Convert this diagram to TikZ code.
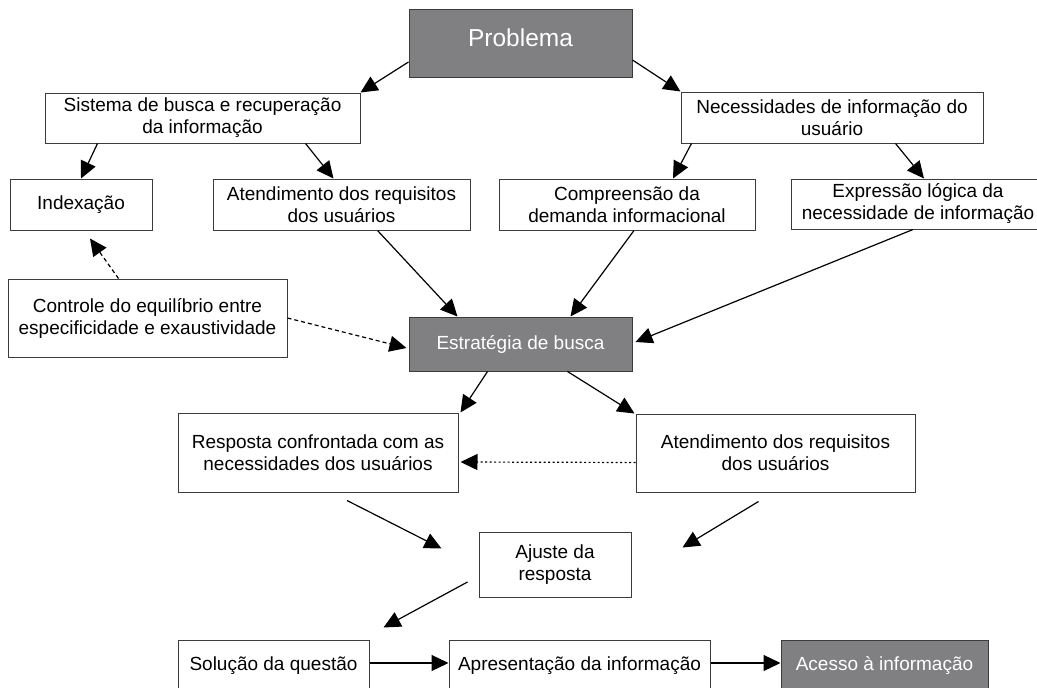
\documentclass[tikz,border=0pt]{standalone}
\usepackage{fontspec}
\setmainfont{Liberation Sans}
\usetikzlibrary{arrows.meta}
\definecolor{boxgray}{RGB}{128,128,131}
\definecolor{edgegray}{RGB}{60,60,60}
\begin{document}
\begin{tikzpicture}[x=1pt,y=-1pt,
  box/.style={draw=edgegray, line width=1pt, fill=white, inner sep=0pt, align=center,
    font=\fontsize{19}{22}\selectfont, text=black},
  gbox/.style={box, fill=boxgray, text=white},
  arr/.style={draw=black, line width=1.2pt, -{Triangle[length=17pt,width=16pt]}},
  darr/.style={arr, dash pattern=on 4pt off 3pt},
  dotarr/.style={arr, dash pattern=on 2pt off 2.5pt}
]
\useasboundingbox (0,0) rectangle (1037,688);
\fill[white] (0,0) rectangle (1037,688);
\clip (0,0) rectangle (1037,688);

% nodes
\node[gbox, minimum width=223pt, minimum height=68pt, font=\fontsize{24.5}{28}\selectfont,
  text height=17.5pt, text depth=10pt] (prob) at (520.5,43) {Problema};
\node[box, minimum width=315pt, minimum height=50pt] (sis) at (202.5,118)
  {Sistema de busca e recuperação\\da informação};
\node[box, minimum width=302pt, minimum height=51pt] (nec) at (832,117.5)
  {Necessidades de informação do\\usuário};
\node[box, minimum width=142pt, minimum height=51pt] (idx) at (81,204.5) {Indexação};
\node[box, minimum width=257pt, minimum height=51pt] (at1) at (341.5,204.5)
  {Atendimento dos requisitos\\dos usuários};
\node[box, minimum width=256pt, minimum height=51pt] (comp) at (627,204.5)
  {Compreensão da\\demanda informacional};
\node[box, minimum width=254pt, minimum height=50pt] (exp) at (918,204)
  {Expressão lógica da\\necessidade de informação};
\node[box, minimum width=279pt, minimum height=78pt] (ctrl) at (147.5,318)
  {Controle do equilíbrio entre\\especificidade e exaustividade};
\node[gbox, minimum width=223pt, minimum height=54pt] (est) at (520.5,344) {Estratégia de busca};
\node[box, minimum width=280pt, minimum height=79pt] (resp) at (318,452.5)
  {Resposta confrontada com as\\necessidades dos usuários};
\node[box, minimum width=279pt, minimum height=78pt] (at2) at (775.5,453)
  {Atendimento dos requisitos\\dos usuários};
\node[box, minimum width=152pt, minimum height=65pt] (aj) at (555,564.5) {Ajuste da\\resposta};
\node[box, minimum width=191pt, minimum height=52pt] (sol) at (273.5,666) {Solução da questão};
\node[box, minimum width=261pt, minimum height=52pt] (apr) at (579.5,666) {Apresentação da informação};
\node[gbox, minimum width=207pt, minimum height=52pt] (acc) at (884.5,666) {Acesso à informação};

% free end points
\coordinate (idxfree) at ([xshift=9pt,yshift=-8pt]idx.south);
\coordinate (ajin1) at ([xshift=-37pt,yshift=-17pt]aj.north west);
\coordinate (ajin2) at ([xshift=51pt,yshift=-16pt]aj.north east);
\coordinate (respout) at ([xshift=29pt,yshift=-8pt]resp.south);
\coordinate (at2out) at ([xshift=-17pt,yshift=-9pt]at2.south);
\coordinate (ajout) at ([xshift=-11pt,yshift=-17.5pt]aj.west);
\coordinate (solin) at ([xshift=14pt,yshift=12pt]sol.north east);

% connectors
\draw[arr] ([yshift=-19pt]prob.west) -- (sis.north east);
\draw[arr] ([yshift=-17pt]prob.east) -- (nec.north west);
\draw[arr] ([xshift=53pt]sis.south west) -- (idx.north);
\draw[arr] ([xshift=-55pt]sis.south east) -- ([xshift=-8pt]at1.north);
\draw[arr] ([xshift=11pt]nec.south west) -- ([xshift=46pt]comp.north);
\draw[arr] ([xshift=-88pt]nec.south east) -- ([xshift=6pt]exp.north);
\draw[arr] ([xshift=36pt]at1.south) -- ([xshift=-63pt]est.north);
\draw[arr] ([xshift=7pt]comp.south) -- ([xshift=50pt]est.north);
\draw[arr] ([xshift=-5pt]exp.south) -- ([xshift=3pt,yshift=2pt]est.east);
\draw[darr] ([xshift=-29pt]ctrl.north) -- (idxfree);
\draw[darr] (ctrl.east) -- ([xshift=-2pt,yshift=-4pt]est.west);
\draw[arr] ([xshift=-33pt]est.south) -- ([xshift=2pt]resp.north east);
\draw[arr] ([xshift=47pt]est.south) -- ([xshift=-1pt]at2.north west);
\draw[dotarr] ([yshift=-9.5pt]at2.west) -- ([xshift=2pt,yshift=-9.5pt]resp.east);
\draw[arr] (respout) -- (ajin1);
\draw[arr] (at2out) -- (ajin2);
\draw[arr] (ajout) -- (solin);
\draw[arr] ([yshift=3pt]sol.east) -- ([yshift=3pt]apr.west);
\draw[arr] ([yshift=3pt]apr.east) -- ([yshift=3pt]acc.west);
\end{tikzpicture}
\end{document}
